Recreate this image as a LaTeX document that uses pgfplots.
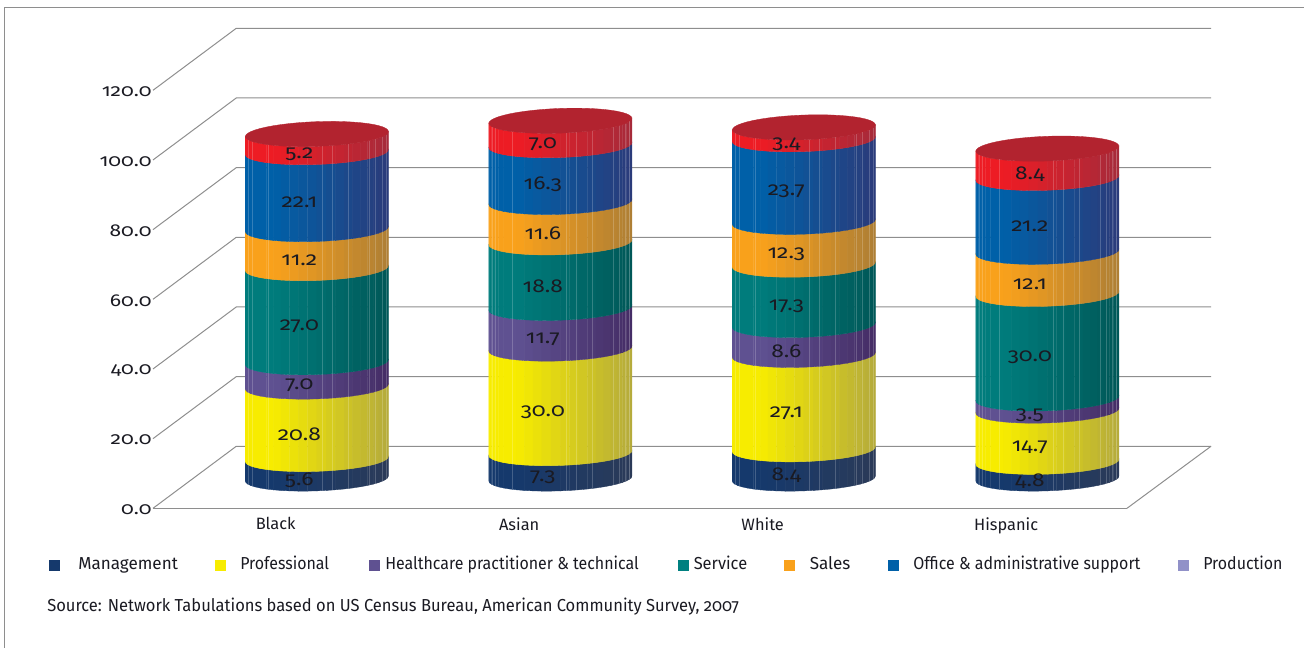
\documentclass[border=0pt]{standalone}
\usepackage{fontspec}
\usepackage{pgfplots}
\pgfplotsset{compat=1.18}
\setmainfont{Fira Sans}[Numbers=OldStyle]
\newfontfamily\tickfont{Fira Sans}[Numbers=OldStyle,FakeStretch=1.22]
\newfontfamily\legendfont{Fira Sans}[Numbers=OldStyle,FakeStretch=0.92]

\definecolor{gridgray}{HTML}{8E8E8E}
\definecolor{inktext}{HTML}{1A1A22}
\definecolor{capred}{HTML}{B2232F}
\definecolor{mgmtL}{HTML}{15396C}\definecolor{mgmtR}{HTML}{2B3A58}
\definecolor{profL}{HTML}{F7EC00}\definecolor{profR}{HTML}{B5AB3C}
\definecolor{hlthL}{HTML}{5F5191}\definecolor{hlthR}{HTML}{452D66}
\definecolor{servL}{HTML}{007C7C}\definecolor{servR}{HTML}{005858}
\definecolor{saleL}{HTML}{F9A11B}\definecolor{saleR}{HTML}{AE7F35}
\definecolor{offcL}{HTML}{0060A8}\definecolor{offcR}{HTML}{2B3B7A}
\definecolor{prodL}{HTML}{ED1C24}\definecolor{prodR}{HTML}{A62A3A}
\definecolor{servkey}{HTML}{008080}
\definecolor{prodkey}{HTML}{9191C8}

% Cylinder geometry in axis units: one category is 243.5 px, one percent 3.483 px
\def\cylshift{0.173}   % half the floor depth, to the right
\def\cylbase{8.55}     % half the floor depth, upwards
\def\cylrx{0.2936}
\def\cylry{3.55}
\def\cyltilt{0.72}
\def\facets{24}

% One stacked band: category, cumulative value below it, value, colour stem
\newcommand{\cylband}[4]{%
  \pgfmathsetmacro{\cc}{#1+\cylshift}%
  \pgfmathsetmacro{\lo}{\cylbase+#2}%
  \pgfmathsetmacro{\hi}{\cylbase+#2+#3}%
  \foreach \k in {1,...,\facets}{%
    \pgfmathsetmacro{\ta}{180+180*(\k-1)/\facets}%
    \pgfmathsetmacro{\tb}{180+180*\k/\facets}%
    \pgfmathsetmacro{\xa}{\cc+\cylrx*cos(\ta)}%
    \pgfmathsetmacro{\xb}{\cc+\cylrx*cos(\tb)}%
    \pgfmathsetmacro{\da}{\cylry*sin(\ta)+\cyltilt*cos(\ta)}%
    \pgfmathsetmacro{\db}{\cylry*sin(\tb)+\cyltilt*cos(\tb)}%
    \pgfmathsetmacro{\yla}{\lo+\da}%
    \pgfmathsetmacro{\ylb}{\lo+\db}%
    \pgfmathsetmacro{\yha}{\hi+\da}%
    \pgfmathsetmacro{\yhb}{\hi+\db}%
    \pgfmathsetmacro{\uu}{(0.5*(\xa+\xb)-\cc+\cylrx)/(2*\cylrx)}%
    \pgfmathsetmacro{\pct}{\uu<0.2 ? 100 : 100*(1-\uu)/0.8}%
    \edef\temp{\noexpand\addplot[forget plot,draw=#4L!\pct!#4R,line width=0.25pt,
        fill=#4L!\pct!#4R] coordinates
        {(\xa,\yla) (\xb,\ylb) (\xb,\yhb) (\xa,\yha)} -- cycle;}%
    \temp
  }%
}

% The value printed on a band
\newcommand{\cyllabel}[3]{%
  \pgfmathsetmacro{\lx}{#1+\cylshift-0.072}%
  \pgfmathsetmacro{\ly}{\cylbase+#2+0.5*#3-3.2}%
  \edef\temp{\noexpand\node[font=\noexpand\tickfont\noexpand\fontsize{14}{16}\noexpand\selectfont,
      text=inktext,inner sep=0pt] at (axis cs:\lx,\ly) {#3};}%
  \temp
}

% The flat cap that closes a column of the given total
\newcommand{\cylcap}[2]{%
  \pgfmathsetmacro{\cc}{#1+\cylshift}%
  \pgfmathsetmacro{\hi}{\cylbase+#2}%
  \def\pts{}%
  \foreach \k in {0,...,48}{%
    \pgfmathsetmacro{\ta}{7.5*\k}%
    \pgfmathsetmacro{\xa}{\cc+\cylrx*cos(\ta)}%
    \pgfmathsetmacro{\ya}{\hi+\cylry*sin(\ta)+\cyltilt*cos(\ta)}%
    \xdef\pts{\pts (\xa,\ya)}%
  }%
  \edef\temp{\noexpand\addplot[forget plot,draw=capred,line width=0.25pt,fill=capred]
     coordinates {\pts} -- cycle;}%
  \temp
}

% Pale seams running up the column at fixed positions around it
\newcommand{\cylseams}[2]{%
  \pgfmathsetmacro{\cc}{#1+\cylshift}%
  \foreach \f in {-0.954,-0.906,-0.674,0.081,0.221,0.445,0.734,0.818,0.912,0.968}{%
    \pgfmathsetmacro{\xa}{\cc+\cylrx*\f}%
    \pgfmathsetmacro{\da}{-\cylry*sqrt(1-\f*\f)+\cyltilt*\f}%
    \pgfmathsetmacro{\ya}{\cylbase+\da}%
    \pgfmathsetmacro{\yb}{\cylbase+#2+\da}%
    \edef\temp{\noexpand\addplot[forget plot,white,opacity=0.2,line width=0.5pt]
       coordinates {(\xa,\ya) (\xa,\yb)};}%
    \temp
  }%
}

% A full column: category, then the seven values from the bottom up
\newcommand{\column}[8]{%
  \pgfmathsetmacro{\ca}{#2}\pgfmathsetmacro{\cb}{\ca+#3}%
  \pgfmathsetmacro{\cd}{\cb+#4}\pgfmathsetmacro{\ce}{\cd+#5}%
  \pgfmathsetmacro{\cf}{\ce+#6}\pgfmathsetmacro{\cg}{\cf+#7}\pgfmathsetmacro{\ch}{\cg+#8}%
  \let\sa\ca\let\sb\cb\let\sd\cd\let\se\ce\let\sf\cf\let\sg\cg\let\sh\ch
  \cylband{#1}{0}{#2}{mgmt}%
  \cylband{#1}{\sa}{#3}{prof}%
  \cylband{#1}{\sb}{#4}{hlth}%
  \cylband{#1}{\sd}{#5}{serv}%
  \cylband{#1}{\se}{#6}{sale}%
  \cylband{#1}{\sf}{#7}{offc}%
  \cylband{#1}{\sg}{#8}{prod}%
  \cylcap{#1}{\sh}%
  \cylseams{#1}{\sh}%
  \cyllabel{#1}{0}{#2}%
  \cyllabel{#1}{\sa}{#3}%
  \cyllabel{#1}{\sb}{#4}%
  \cyllabel{#1}{\sd}{#5}%
  \cyllabel{#1}{\se}{#6}%
  \cyllabel{#1}{\sf}{#7}%
  \cyllabel{#1}{\sg}{#8}%
}

\begin{document}
\begin{tikzpicture}
% Page: 1304 x 648 px at 0.75 pt per px, axis origin at px (153, 508.3)
\path[use as bounding box] (-114.75pt,-104.775pt) rectangle (863.25pt,381.225pt);

\begin{axis}[
  at={(0pt,0pt)},anchor=south west,
  scale only axis,width=730.5pt,height=313.5pt,
  clip=false,
  xmin=-0.5,xmax=3.5,ymin=0,ymax=120,
  axis x line*=bottom,axis y line*=left,
  x axis line style={draw=gridgray,line width=0.75pt,-},
  y axis line style={draw=none,-},
  major tick length=0pt,
  xtick={0,1,2,3},xticklabels={Black,Asian,White,Hispanic},
  ytick={0,20,40,60,80,100,120},
  xticklabel style={font=\fontsize{12.3}{14}\selectfont,text=inktext,yshift=-3.2pt,xshift=0.7pt},
  yticklabel style={font=\tickfont\fontsize{12.9}{14}\selectfont,text=inktext,xshift=2.5pt,yshift=-1pt},
  /pgf/number format/assume math mode=true,
  yticklabel={\pgfmathprintnumber[fixed,fixed zerofill,precision=1]{\tick}},
]
% Side wall and back wall rules
\addplot[forget plot,gridgray,line width=0.75pt] coordinates {(-0.5,0) (-0.158,17.8) (3.845,17.8)};
\addplot[forget plot,gridgray,line width=0.75pt] coordinates {(-0.5,20) (-0.158,37.8) (3.845,37.8)};
\addplot[forget plot,gridgray,line width=0.75pt] coordinates {(-0.5,40) (-0.158,57.8) (3.845,57.8)};
\addplot[forget plot,gridgray,line width=0.75pt] coordinates {(-0.5,60) (-0.158,77.8) (3.845,77.8)};
\addplot[forget plot,gridgray,line width=0.75pt] coordinates {(-0.5,80) (-0.158,97.8) (3.845,97.8)};
\addplot[forget plot,gridgray,line width=0.75pt] coordinates {(-0.5,100) (-0.158,117.8) (3.845,117.8)};
\addplot[forget plot,gridgray,line width=0.75pt] coordinates {(-0.5,120) (-0.158,137.8) (3.845,137.8)};
% Right edge of the floor
\addplot[forget plot,gridgray,line width=0.75pt] coordinates {(3.5,0) (3.845,17.8)};

\column{0}{5.6}{20.8}{7.0}{27.0}{11.2}{22.1}{5.2}
\column{1}{7.3}{30.0}{11.7}{18.8}{11.6}{16.3}{7.0}
\column{2}{8.4}{27.1}{8.6}{17.3}{12.3}{23.7}{3.4}
\column{3}{4.8}{14.7}{3.5}{30.0}{12.1}{21.2}{8.4}
\end{axis}

% Outer frame, legend and source line, placed in px
\begin{scope}[x=0.75pt,y=-0.75pt,shift={(-114.75pt,381.225pt)}]
  \draw[gridgray,line width=0.9pt] (4.5,648) -- (4.5,7.5) -- (1304,7.5);
  \foreach \xx/\col in {49/mgmtL,215/profL,369/hlthL,678/servkey,784/saleL,888/offcL,1178/prodkey}
    \fill[\col] (\xx,560) rectangle ++(11,11);
  \tikzset{legtext/.style={anchor=base west,inner sep=0pt,text=inktext,
     font=\legendfont\fontsize{13}{15}\selectfont}}
  \node[legtext] at (78,569.3) {\scalebox{1.07}[1]{Management}};
  \node[legtext] at (240,569.3) {Professional};
  \node[legtext] at (385,569.3) {Healthcare practitioner \& technical};
  \node[legtext] at (693.5,569.3) {\scalebox{1.03}[1]{Service}};
  \node[legtext] at (809.5,569.3) {\scalebox{1.07}[1]{Sales}};
  \node[legtext] at (913,569.3) {Office \& administrative support};
  \node[legtext] at (1203,569.3) {Production};
  \node[legtext] at (47,612) {\scalebox{1.036}[1]{Source: Network Tabulations based on US Census Bureau, American Community Survey, 2007}};
\end{scope}
\end{tikzpicture}
\end{document}
